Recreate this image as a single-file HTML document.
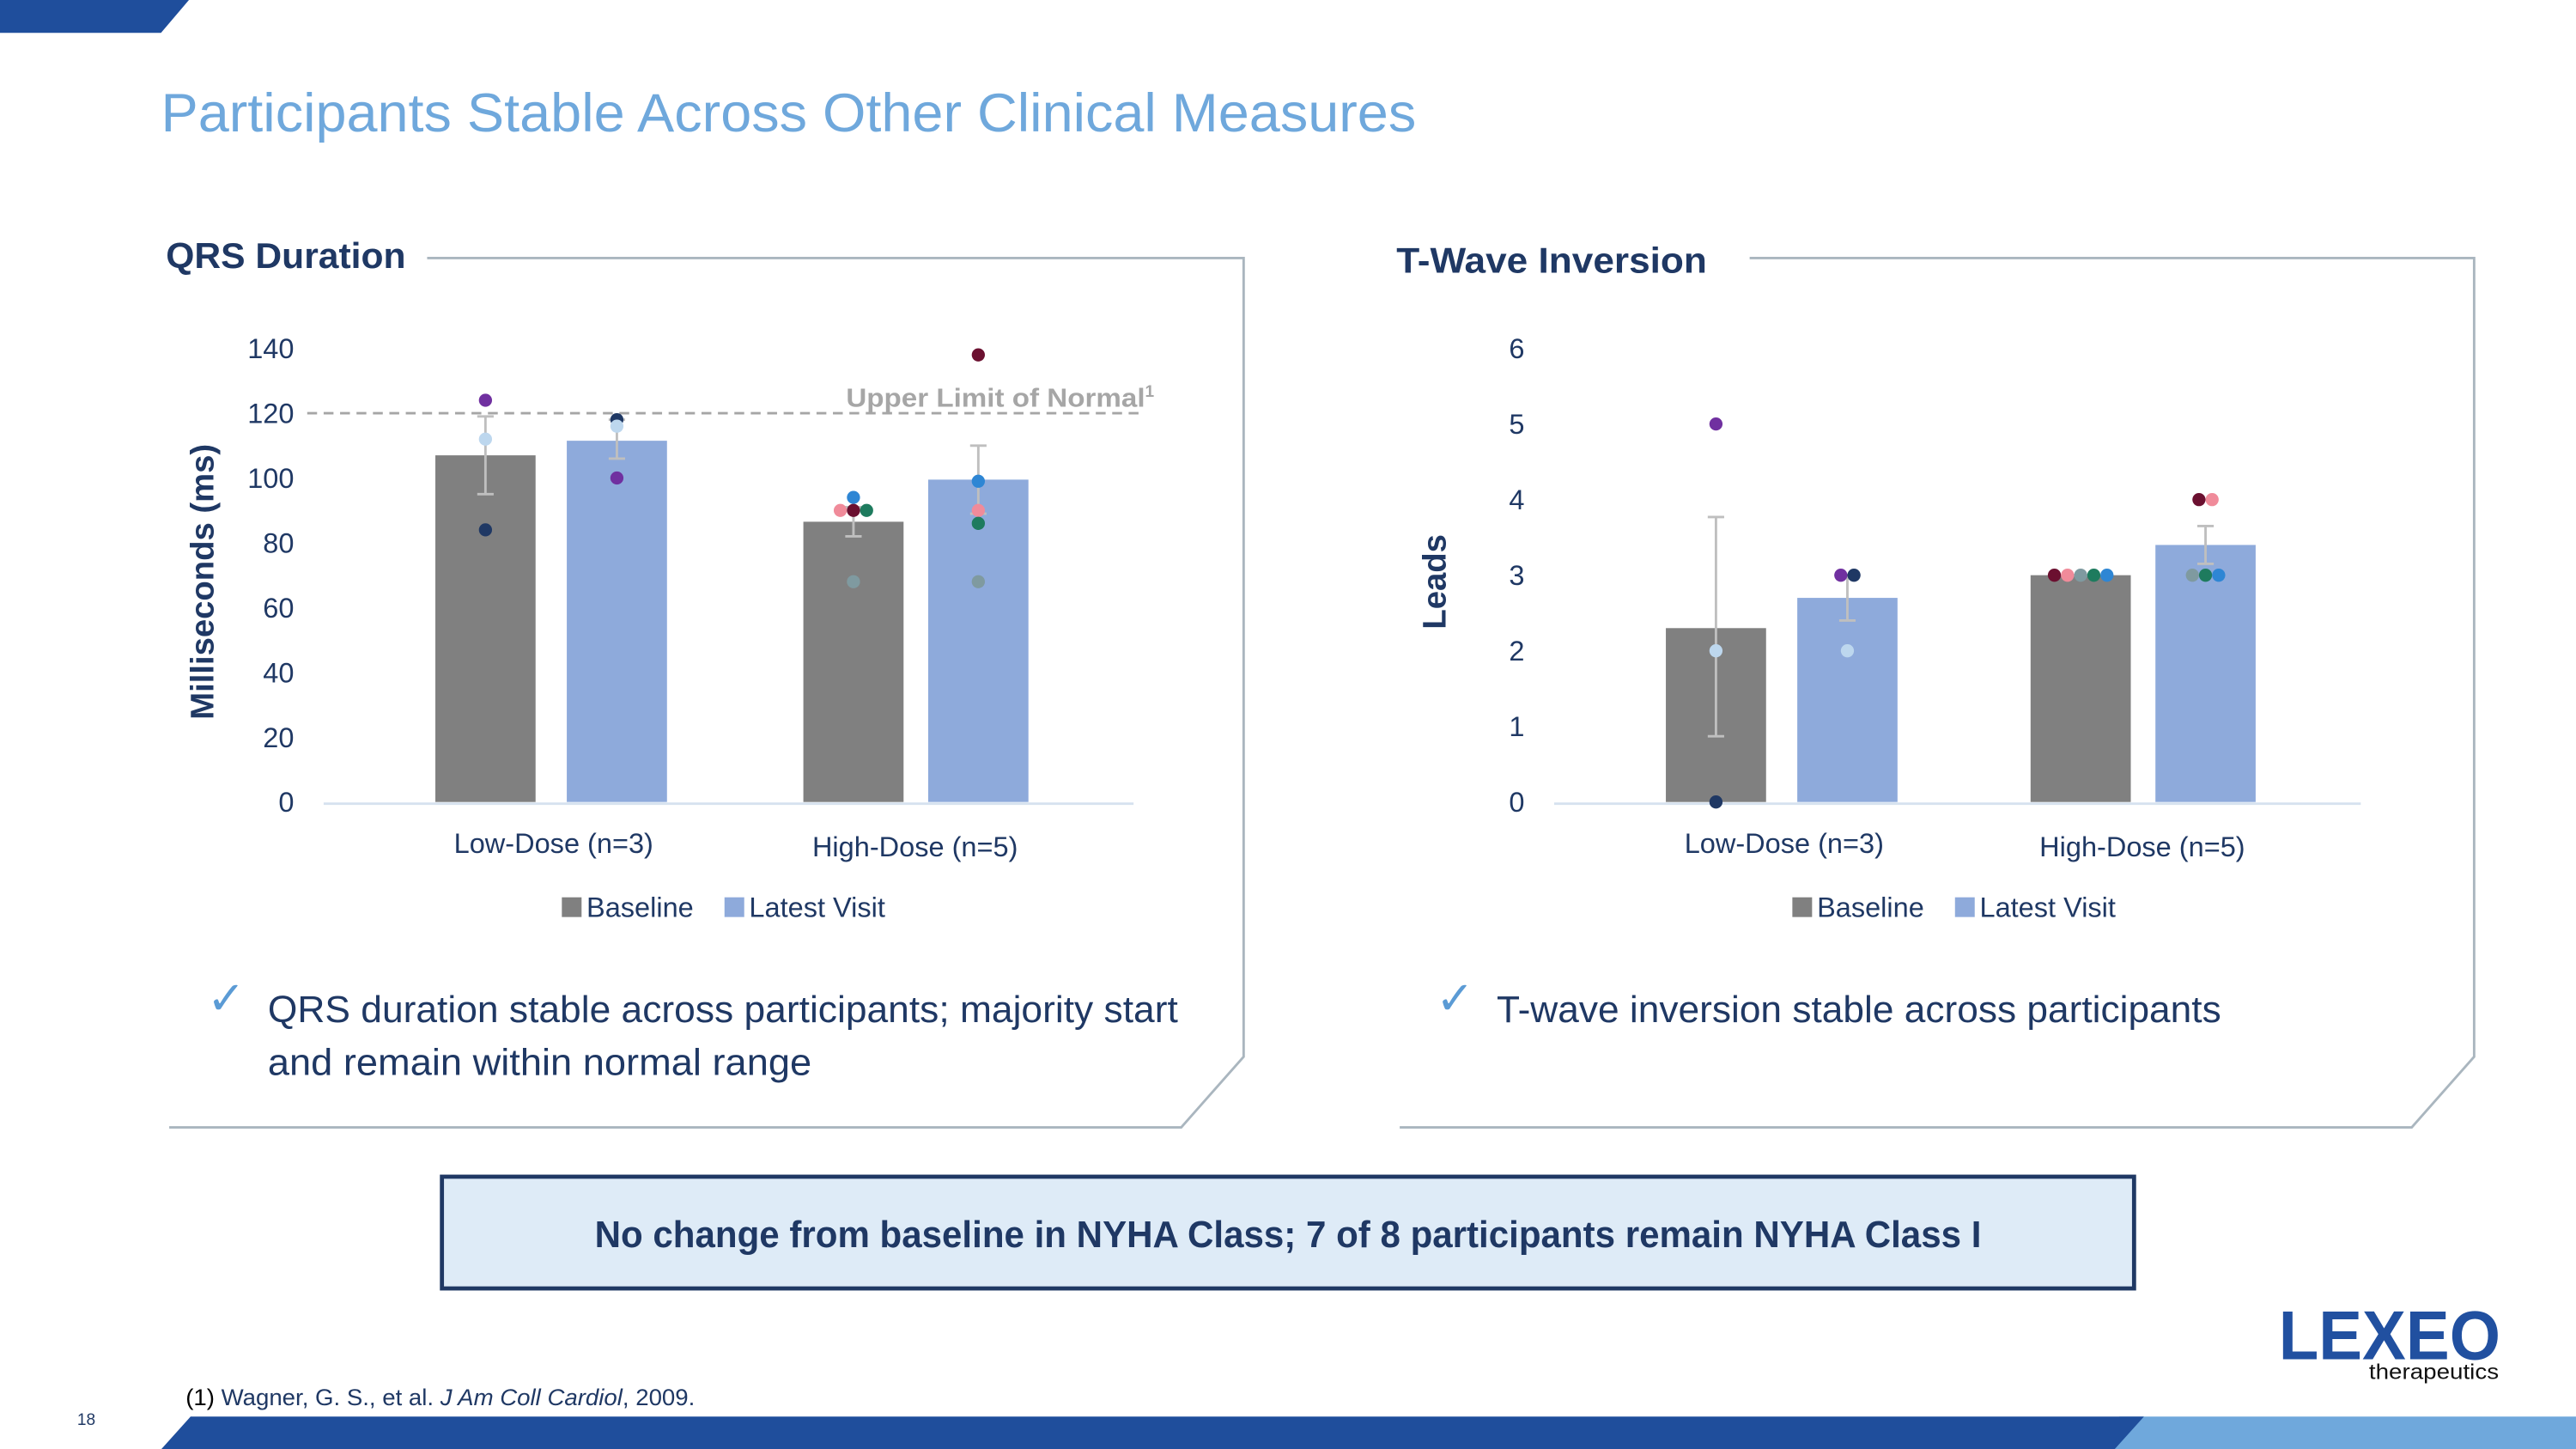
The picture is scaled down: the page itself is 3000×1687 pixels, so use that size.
<!DOCTYPE html>
<html><head><meta charset="utf-8">
<style>
html,body{margin:0;padding:0;background:#fff;}
svg{display:block;}
text{font-family:"Liberation Sans",sans-serif;}
</style></head>
<body>
<svg id="s" width="3000" height="1687" viewBox="0 0 1568 881.7" preserveAspectRatio="none" xmlns="http://www.w3.org/2000/svg">
<polygon points="0,0 115,0 98,20 0,20" fill="#1f4e9c"/>
<text x="98" y="80" font-size="33" fill="#6fa8dc" textLength="764" lengthAdjust="spacingAndGlyphs">Participants Stable Across Other Clinical Measures</text>

<polyline points="260,157 757,157 757,643 719,686 103,686" fill="none" stroke="#aab6bf" stroke-width="1.5"/>
<polyline points="1065,157 1506,157 1506,643 1468,686 852,686" fill="none" stroke="#aab6bf" stroke-width="1.5"/>
<text x="101" y="163" font-size="22" font-weight="bold" fill="#1f3864" textLength="146" lengthAdjust="spacingAndGlyphs">QRS Duration</text>
<text x="850" y="166" font-size="22" font-weight="bold" fill="#1f3864" textLength="189" lengthAdjust="spacingAndGlyphs">T-Wave Inversion</text>

<g id="c1"></g>
<g id="c2"></g>

<text x="126" y="617" font-size="28" fill="#5b9bd5">✓</text>
<text x="163" y="622" font-size="23" fill="#1f3864" textLength="554" lengthAdjust="spacingAndGlyphs">QRS duration stable across participants; majority start</text>
<text x="163" y="654" font-size="23" fill="#1f3864" textLength="331" lengthAdjust="spacingAndGlyphs">and remain within normal range</text>
<text x="874" y="617" font-size="28" fill="#5b9bd5">✓</text>
<text x="911" y="622" font-size="23" fill="#1f3864" textLength="441" lengthAdjust="spacingAndGlyphs">T-wave inversion stable across participants</text>

<rect x="269" y="716" width="1030" height="68" fill="#deebf7" stroke="#1f3864" stroke-width="2.5"/>
<text x="784" y="759" font-size="23" font-weight="bold" fill="#1f3864" text-anchor="middle" textLength="844" lengthAdjust="spacingAndGlyphs">No change from baseline in NYHA Class; 7 of 8 participants remain NYHA Class I</text>

<text x="113" y="855" font-size="14" fill="#1f3864" textLength="310" lengthAdjust="spacingAndGlyphs"><tspan fill="#000">(1)</tspan> Wagner, G. S., et al. <tspan font-style="italic">J Am Coll Cardiol</tspan>, 2009.</text>
<text x="47" y="867" font-size="10" fill="#1f3864">18</text>
<polygon points="1290,862 1568,862 1568,882 1272,882" fill="#6fa8dc"/>
<polygon points="116,862 1305,862 1287,882 98,882" fill="#1f4e9c"/>

<g>
<text x="1387" y="827" font-size="42" font-weight="bold" fill="#2150a0" textLength="135" lengthAdjust="spacingAndGlyphs">LEXEO</text>
<text x="1442" y="839" font-size="13" fill="#111" textLength="79" lengthAdjust="spacingAndGlyphs">therapeutics</text>
</g>
</svg>
<script>
// QRS chart data
const qrsCategories = ["Low-Dose (n=3)", "High-Dose (n=5)"];
const qrsBaseline = [107, 86.5];
const qrsLatest = [111.5, 99.5];
const qrsBaselineErrLow = [95, 82];
const qrsBaselineErrHigh = [119, 91];
const qrsLatestErrLow = [106, 89];
const qrsLatestErrHigh = [118, 110];
const qrsBaselineDots = [[124, 112, 84], [94, 90, 90, 90, 68]];
const qrsLatestDots = [[118, 116, 100], [138, 99, 90, 86, 68]];
const qrsBaselineDotColors = [["#7030a0", "#bdd7ee", "#1f3864"], ["#2e86d4", "#f08b9a", "#6b1030", "#1e7b5e", "#7f9aa0"]];
const qrsLatestDotColors = [["#1f3864", "#bdd7ee", "#7030a0"], ["#6b1030", "#2e86d4", "#f08b9a", "#1e7b5e", "#7f9aa0"]];
const qrsTicks = [0, 20, 40, 60, 80, 100, 120, 140];
const qrsLimit = 120;

// T-wave chart data
const twCategories = ["Low-Dose (n=3)", "High-Dose (n=5)"];
const twBaseline = [2.3, 3.0];
const twLatest = [2.7, 3.4];
const twBaselineErrLow = [0.87, 3.0];
const twBaselineErrHigh = [3.77, 3.0];
const twLatestErrLow = [2.4, 3.15];
const twLatestErrHigh = [3.0, 3.65];
const twBaselineDots = [[5, 2, 0], [3, 3, 3, 3, 3]];
const twLatestDots = [[3, 3, 2], [4, 4, 3, 3, 3]];
const twBaselineDotColors = [["#7030a0", "#bdd7ee", "#1f3864"], ["#6b1030", "#f08b9a", "#7f9aa0", "#1e7b5e", "#2e86d4"]];
const twLatestDotColors = [["#7030a0", "#1f3864", "#bdd7ee"], ["#6b1030", "#f08b9a", "#7f9aa0", "#1e7b5e", "#2e86d4"]];
const twTicks = [0, 1, 2, 3, 4, 5, 6];

const NS = "http://www.w3.org/2000/svg";
function mk(parent, tag, attrs, txt) {
  const e = document.createElementNS(NS, tag);
  for (const k in attrs) e.setAttribute(k, attrs[k]);
  if (txt !== undefined) e.textContent = txt;
  parent.appendChild(e);
  return e;
}

function drawChart(g, cfg) {
  const yScale = v => cfg.y0 - (v - cfg.min) / (cfg.max - cfg.min) * (cfg.y0 - cfg.y1);
  cfg.ticks.forEach(t => {
    const e = mk(g, "text", {x: cfg.tickX, y: yScale(t) + 6, "font-size": 17, fill: "#1f3864", "text-anchor": "end"}, String(t));
    
    
  });
  const at = mk(g, "text", {x: 0, y: 0, "font-size": 20, "font-weight": "bold", fill: "#1f3864", "text-anchor": "middle", transform: `translate(${cfg.titleX},${(cfg.y0 + cfg.y1) / 2 + 4}) rotate(-90)`}, cfg.title);
  
  
  const ax = mk(g, "line", {x1: cfg.axisX1, x2: cfg.axisX2, y1: cfg.y0 + 1, y2: cfg.y0 + 1, stroke: "#d6e2ef", "stroke-width": 1.5});
  
  
  if (cfg.limit !== undefined) {
    const ly = yScale(cfg.limit);
    const l = mk(g, "line", {x1: cfg.axisX1 - 10, x2: cfg.axisX2 + 7, y1: ly, y2: ly, stroke: "#a6a6a6", "stroke-width": 1.5, "stroke-dasharray": "6,4"});
    
    
    const lt = mk(g, "text", {x: 515, y: ly - 4, "font-size": 16, "font-weight": "bold", fill: "#a6a6a6"});
    lt.innerHTML = '<tspan textLength="182" lengthAdjust="spacingAndGlyphs">Upper Limit of Normal</tspan><tspan font-size="10" dy="-6">1</tspan>';
    
    
  }
  const series = [
    {vals: cfg.base, lo: cfg.bLo, hi: cfg.bHi, dots: cfg.bDots, cols: cfg.bCols, fill: "#808080", name: "baseline"},
    {vals: cfg.latest, lo: cfg.lLo, hi: cfg.lHi, dots: cfg.lDots, cols: cfg.lCols, fill: "#8eaadb", name: "latest"}
  ];
  cfg.cats.forEach((c, i) => {
    series.forEach((s, j) => {
      const x = cfg.barX[i][j];
      const w = cfg.barW;
      const top = yScale(s.vals[i]);
      const r = mk(g, "rect", {x: x, y: top, width: w, height: cfg.y0 - top, fill: s.fill});
      
      
      const cx = x + w / 2;
      const eb = mk(g, "path", {d: `M${cx},${yScale(s.lo[i])}V${yScale(s.hi[i])}M${cx - 5},${yScale(s.lo[i])}H${cx + 5}M${cx - 5},${yScale(s.hi[i])}H${cx + 5}`, stroke: "#bfbfbf", "stroke-width": 1.5, fill: "none"});
      
      
      const d = s.dots[i];
      d.forEach((v, k) => {
        const same = d.filter(u => u === v).length;
        const idx = d.slice(0, k).filter(u => u === v).length;
        const dx = (idx - (same - 1) / 2) * 8;
        const ci = mk(g, "circle", {cx: cx + dx, cy: yScale(v), r: 4, fill: s.cols[i][k]});
        
        
      });
    });
    const lbl = mk(g, "text", {x: cfg.catX[i], y: cfg.y0 + 31 + i * 2, "font-size": 17, fill: "#1f3864", "text-anchor": "middle"}, c);
    
    
  });
  const lx = cfg.legendX;
  const ly = cfg.y0 + 58;
  const s1 = mk(g, "rect", {x: lx, y: ly, width: 12, height: 12, fill: "#808080"});
  
  
  const t1 = mk(g, "text", {x: lx + 15, y: ly + 12, "font-size": 17, fill: "#1f3864"}, "Baseline");
  
  
  const s2 = mk(g, "rect", {x: lx + 99, y: ly, width: 12, height: 12, fill: "#8eaadb"});
  
  
  const t2 = mk(g, "text", {x: lx + 114, y: ly + 12, "font-size": 17, fill: "#1f3864"}, "Latest Visit");
  
  
}

drawChart(document.getElementById('c1'), {
  min: 0, max: 140, y0: 488, y1: 212, ticks: qrsTicks, tickX: 179, titleX: 130, title: "Milliseconds (ms)",
  axisX1: 197, axisX2: 690, limit: qrsLimit,
  cats: qrsCategories, base: qrsBaseline, latest: qrsLatest,
  bLo: qrsBaselineErrLow, bHi: qrsBaselineErrHigh, lLo: qrsLatestErrLow, lHi: qrsLatestErrHigh,
  bDots: qrsBaselineDots, lDots: qrsLatestDots, bCols: qrsBaselineDotColors, lCols: qrsLatestDotColors,
  barX: [[265, 345], [489, 565]], barW: 61, catX: [337, 557], legendX: 342
});
drawChart(document.getElementById('c2'), {
  min: 0, max: 6, y0: 488, y1: 212, ticks: twTicks, tickX: 928, titleX: 880, title: "Leads",
  axisX1: 946, axisX2: 1437,
  cats: twCategories, base: twBaseline, latest: twLatest,
  bLo: twBaselineErrLow, bHi: twBaselineErrHigh, lLo: twLatestErrLow, lHi: twLatestErrHigh,
  bDots: twBaselineDots, lDots: twLatestDots, bCols: twBaselineDotColors, lCols: twLatestDotColors,
  barX: [[1014, 1094], [1236, 1312]], barW: 61, catX: [1086, 1304], legendX: 1091
});
</script>
</body></html>
